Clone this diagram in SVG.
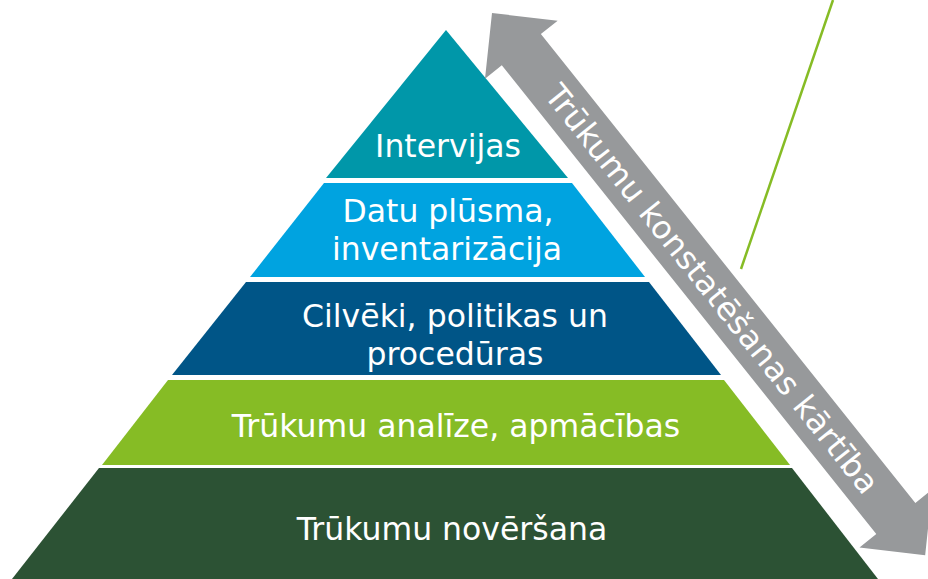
<svg xmlns="http://www.w3.org/2000/svg" width="928" height="579" viewBox="0 0 928 579">
<style>
.lbl{font-family:"DejaVu Sans","Verdana",sans-serif;font-size:31.5px;fill:#ffffff;text-anchor:middle}
.arr{font-family:"DejaVu Sans","Verdana",sans-serif;font-size:32px;fill:#ffffff;text-anchor:middle}
</style>
<rect width="928" height="579" fill="#ffffff"/>
<g id="connectors">
<line x1="833" y1="0" x2="741" y2="269" stroke="#86bc25" stroke-width="2.5"/>
</g>
<g id="layer1">
<polygon points="446,30 568,178 326,178" fill="#0097a9"/>
<text class="lbl" x="448" y="157">Intervijas</text>
</g>
<g id="layer2">
<polygon points="324,183 572,183 645,277 250,277" fill="#00a3e0"/>
<text class="lbl" x="448" y="222">Datu plūsma,</text>
<text class="lbl" x="447" y="260">inventarizācija</text>
</g>
<g id="layer3">
<polygon points="246,282 649,282 721,375 172,375" fill="#005587"/>
<text class="lbl" x="455" y="327">Cilvēki, politikas un</text>
<text class="lbl" x="455" y="365">procedūras</text>
</g>
<g id="layer4">
<polygon points="168,380 724,380 790,465 102,465" fill="#86bc25"/>
<text class="lbl" x="456" y="437">Trūkumu analīze, apmācības</text>
</g>
<g id="layer5">
<polygon points="99,468 792,468 878,579 12,579" fill="#2c5234"/>
<text class="lbl" x="452" y="540">Trūkumu novēršana</text>
</g>
<g id="arrow" transform="translate(492,13) rotate(51.38)">
<polygon points="0,0 47,-46.5 47,-25 647,-25 647,-46.5 694,0 647,46.5 647,25 47,25 47,46.5" fill="#97999b"/>
<text class="arr" x="353" y="11.5" textLength="513" lengthAdjust="spacing">Trūkumu konstatēšanas kārtība</text>
</g>
</svg>
